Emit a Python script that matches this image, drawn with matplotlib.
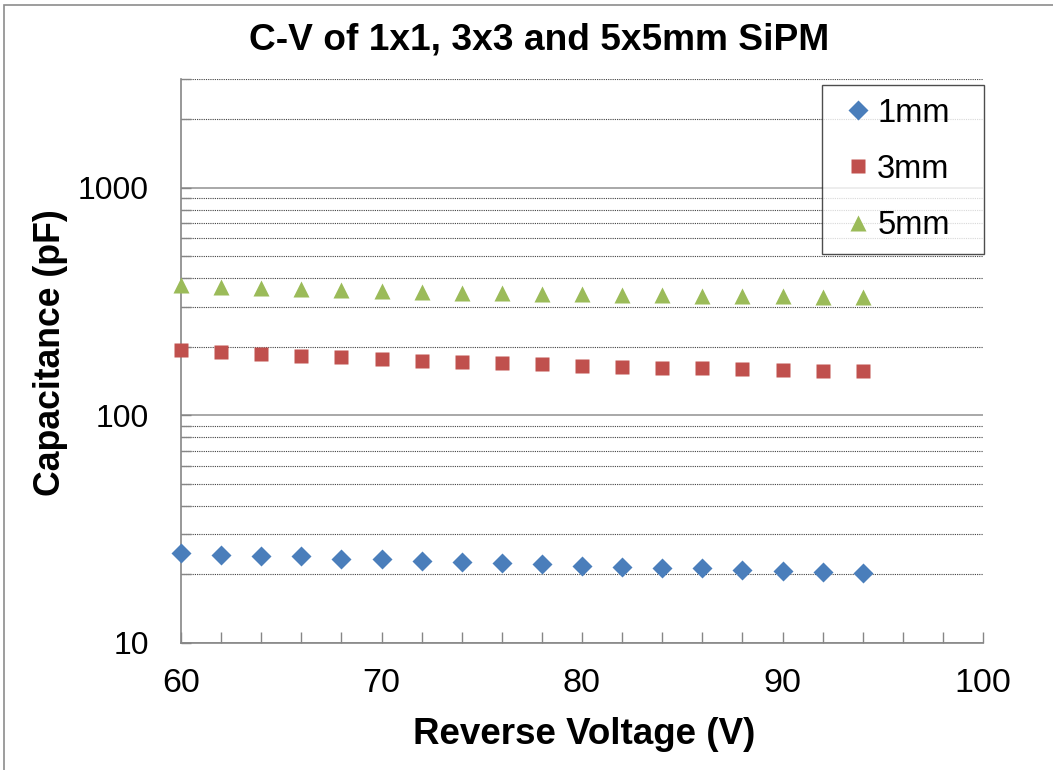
import matplotlib
matplotlib.use("Agg")
import matplotlib.pyplot as plt
from matplotlib.ticker import MultipleLocator, LogLocator, NullFormatter, FixedLocator, FixedFormatter
from matplotlib.patches import Rectangle

plt.rcParams['font.family'] = ['Liberation Sans', 'DejaVu Sans']

# Reverse bias voltage (V)
voltage = [60, 62, 64, 66, 68, 70, 72, 74, 76, 78, 80, 82, 84, 86, 88, 90, 92, 94]

# Capacitance (pF) for each SiPM size
cap_1mm = [24.9, 24.4, 24.1, 24.0, 23.4, 23.3, 23.0, 22.6, 22.4, 22.2,
           21.8, 21.5, 21.4, 21.3, 20.9, 20.7, 20.6, 20.3]
cap_3mm = [193, 189.5, 186, 182, 181, 177, 174, 172, 170, 168,
           164.5, 163.5, 162, 161, 159, 158, 157, 156]
cap_5mm = [372, 366, 361, 357, 354, 351, 348, 346, 344, 342,
           340, 338, 337, 335, 334, 333, 332, 331]

labels = ['1mm', '3mm', '5mm']
colors = ['#4A7EBB', '#C0504D', '#9BBB59']

fig = plt.figure(figsize=(10.53, 7.7), dpi=100)
ax = fig.add_axes([181 / 1053, 127 / 770, 802 / 1053, 564 / 770])

ax.plot(voltage, cap_1mm, 'D', color=colors[0], ms=10.5, mec='none', label=labels[0], clip_on=False, zorder=5)
ax.plot(voltage, cap_3mm, 's', color=colors[1], ms=10.5, mec='none', label=labels[1], clip_on=False, zorder=5)
ax.plot(voltage, cap_5mm, '^', color=colors[2], ms=11.5, mec='none', label=labels[2], clip_on=False, zorder=5)

ax.set_yscale('log')
ax.set_xlim(60, 100)
ax.set_ylim(10, 3000)

# x axis: labels every 10 V, tick marks every 2 V
ax.xaxis.set_major_locator(MultipleLocator(10))
ax.xaxis.set_minor_locator(MultipleLocator(2))
ax.tick_params(axis='x', which='both', direction='in', length=8, width=1,
               color='#868686', labelsize=24.5, pad=18)

# y axis: decades with minor gridlines
ax.yaxis.set_major_locator(FixedLocator([10, 100, 1000]))
ax.yaxis.set_major_formatter(FixedFormatter(['10', '100', '1000']))
ax.yaxis.set_minor_locator(LogLocator(base=10, subs=range(2, 10)))
ax.yaxis.set_minor_formatter(NullFormatter())
ax.tick_params(axis='y', which='both', direction='in', length=7, width=1,
               color='#868686', labelsize=23, pad=23)

ax.grid(True, which='major', axis='y', color='#9a9a9a', lw=1.2, ls='-')
ax.grid(True, which='minor', axis='y', color='#404040', lw=0.8, ls=(0, (1, 1)))
ax.set_axisbelow(True)

for side in ['top', 'right']:
    ax.spines[side].set_visible(False)
for side in ['left', 'bottom']:
    ax.spines[side].set_color('#868686')
    ax.spines[side].set_linewidth(1.2)

leg = ax.legend(loc='upper left',
                bbox_to_anchor=(822 / 1053, 1 - 255 / 770, 162 / 1053, 170 / 770),
                bbox_transform=fig.transFigure, mode='expand', fontsize=23.5,
                markerscale=0.95, frameon=True, fancybox=False,
                handletextpad=-0.15, handlelength=1.45, labelspacing=0.77,
                borderpad=0.39, borderaxespad=0)
leg.get_frame().set_edgecolor('#202020')
leg.get_frame().set_linewidth(1.0)

fig.text(539 / 1053, 1 - 40 / 770, 'C-V of 1x1, 3x3 and 5x5mm SiPM',
         ha='center', va='center', fontsize=26.7, fontweight='bold')
fig.text(50 / 1053, 1 - 353 / 770, 'Capacitance (pF)', rotation=90,
         ha='center', va='center', fontsize=25.7, fontweight='bold')
fig.text(584 / 1053, 1 - 735 / 770, 'Reverse Voltage (V)',
         ha='center', va='center', fontsize=26.5, fontweight='bold')

# outer chart frame
fig.patches.append(Rectangle((4 / 1053, -0.1), 1.2, 1 - 5 / 770 + 0.1,
                             transform=fig.transFigure, fill=False,
                             edgecolor='#8c8c8c', lw=1.2))

fig.savefig('out.png', dpi=100)
